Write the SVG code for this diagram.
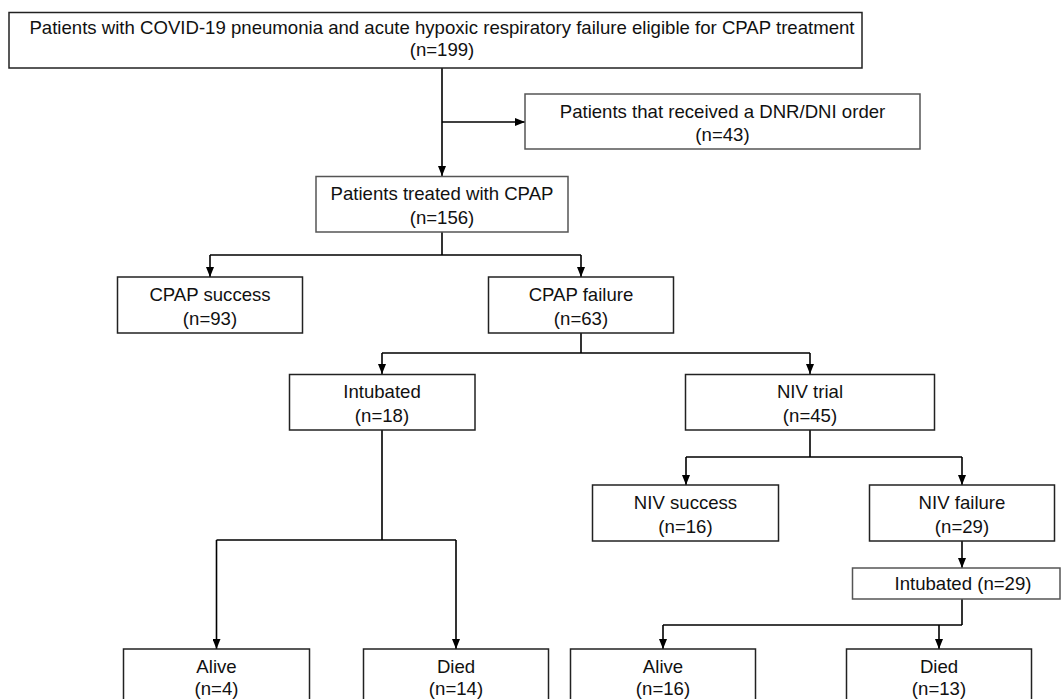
<svg xmlns="http://www.w3.org/2000/svg" width="1061" height="699" viewBox="0 0 1061 699">
<defs>
<marker id="ah" markerUnits="userSpaceOnUse" markerWidth="10" markerHeight="8" refX="10" refY="4" orient="auto">
<path d="M0,0 L10,4 L0,8 z" fill="#000"/>
</marker>
<style>
.box{fill:#fff;stroke:#222;stroke-width:1.5}
.lt{stroke:#555}
.t{font-family:"Liberation Sans",Arial,sans-serif;font-size:18.6px;fill:#111;text-anchor:middle}
.c{fill:none;stroke:#000;stroke-width:1.6}
.a{marker-end:url(#ah)}
</style>
</defs>
<rect width="1061" height="699" fill="#fff"/>
<g id="connectors">
<path class="c a" d="M442,68 V176"/>
<path class="c a" d="M442,122 H525"/>
<path class="c" d="M442,232 V255 M210,255 H581"/>
<path class="c a" d="M210,255 V277"/>
<path class="c a" d="M581,255 V277"/>
<path class="c" d="M581,333 V353 M382,353 H810"/>
<path class="c a" d="M382,353 V374"/>
<path class="c a" d="M810,353 V374"/>
<path class="c" d="M810,430 V457 M686,457 H962"/>
<path class="c a" d="M686,457 V485"/>
<path class="c a" d="M962,457 V485"/>
<path class="c a" d="M962,541 V568"/>
<path class="c" d="M382,430 V540 M216.5,540 H456"/>
<path class="c a" d="M216.5,540 V649"/>
<path class="c a" d="M456,540 V649"/>
<path class="c" d="M962,599 V625 M663,625 H962"/>
<path class="c a" d="M663,625 V649"/>
<path class="c a" d="M939,625 V649"/>
</g>
<g id="n-eligible"><rect class="box" x="9" y="12.5" width="853" height="55.5"/><text class="t" x="442" y="34">Patients with COVID-19 pneumonia and acute hypoxic respiratory failure eligible for CPAP treatment</text><text class="t" x="442" y="56">(n=199)</text></g>
<g id="n-dnr"><rect class="box lt" x="525" y="94" width="395" height="55"/><text class="t" x="722.5" y="118">Patients that received a DNR/DNI order</text><text class="t" x="722.5" y="141">(n=43)</text></g>
<g id="n-cpap"><rect class="box lt" x="316" y="176.5" width="252" height="55.5"/><text class="t" x="442" y="200">Patients treated with CPAP</text><text class="t" x="442" y="224">(n=156)</text></g>
<g id="n-cpap-success"><rect class="box" x="117.5" y="277" width="185" height="56"/><text class="t" x="210" y="301">CPAP success</text><text class="t" x="210" y="325">(n=93)</text></g>
<g id="n-cpap-failure"><rect class="box" x="488.5" y="277" width="185" height="56"/><text class="t" x="581" y="301">CPAP failure</text><text class="t" x="581" y="325">(n=63)</text></g>
<g id="n-intubated18"><rect class="box" x="289.5" y="374.5" width="185.5" height="55.5"/><text class="t" x="382" y="398">Intubated</text><text class="t" x="382" y="422">(n=18)</text></g>
<g id="n-niv-trial"><rect class="box" x="685.5" y="374.5" width="249" height="55.5"/><text class="t" x="810" y="398">NIV trial</text><text class="t" x="810" y="422">(n=45)</text></g>
<g id="n-niv-success"><rect class="box" x="592.5" y="485" width="186" height="56"/><text class="t" x="685.5" y="509">NIV success</text><text class="t" x="685.5" y="533">(n=16)</text></g>
<g id="n-niv-failure"><rect class="box" x="869.5" y="485" width="185" height="56"/><text class="t" x="962" y="509">NIV failure</text><text class="t" x="962" y="533">(n=29)</text></g>
<g id="n-intubated29"><rect class="box lt" x="852.5" y="568" width="207.5" height="31"/><text class="t" x="963" y="590">Intubated (n=29)</text></g>
<g id="n-alive4"><rect class="box" x="123.5" y="649" width="186" height="70"/><text class="t" x="216.5" y="673">Alive</text><text class="t" x="216.5" y="695">(n=4)</text></g>
<g id="n-died14"><rect class="box" x="363.5" y="649" width="185" height="70"/><text class="t" x="456" y="673">Died</text><text class="t" x="456" y="695">(n=14)</text></g>
<g id="n-alive16"><rect class="box" x="570.5" y="649" width="185" height="70"/><text class="t" x="663" y="673">Alive</text><text class="t" x="663" y="695">(n=16)</text></g>
<g id="n-died13"><rect class="box" x="846.5" y="649" width="185" height="70"/><text class="t" x="939" y="673">Died</text><text class="t" x="939" y="695">(n=13)</text></g>
</svg>
